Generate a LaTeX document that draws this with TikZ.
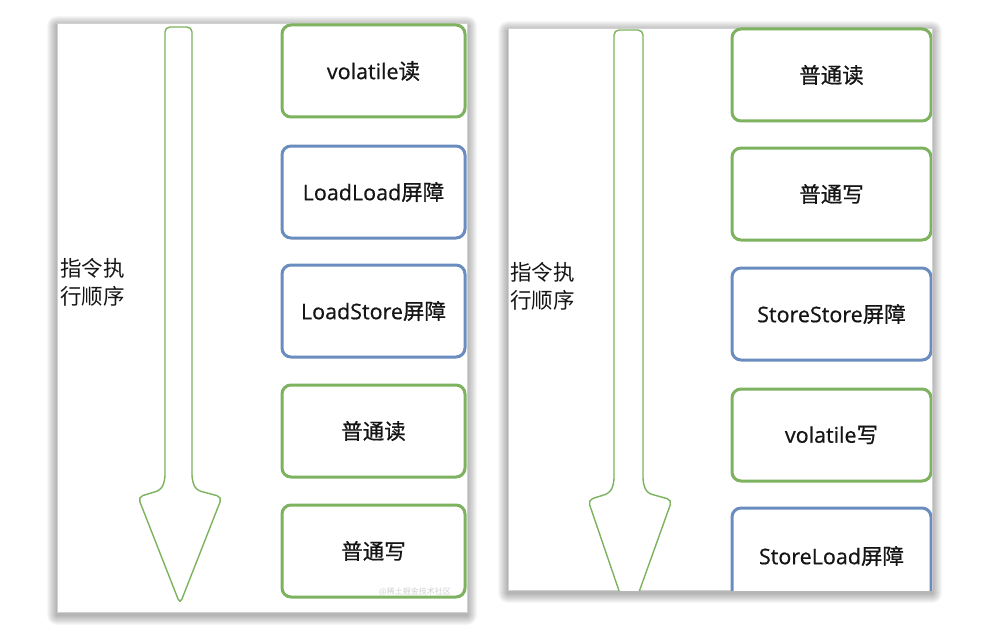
\documentclass[tikz,border=0pt]{standalone}
\usepackage{fontspec}
\setmainfont{Open Sans}[FakeBold=0.7]
\newfontfamily\cjk{Noto Sans CJK SC}[FakeBold=0.7]
\newfontfamily\cjklight{Noto Sans CJK SC}
\definecolor{gline}{HTML}{7DB25F}
\definecolor{bline}{HTML}{6A8DC0}
\definecolor{txt}{HTML}{151515}
\begin{document}
\begin{tikzpicture}[x=1pt,y=-1pt,
  box/.style={draw, line width=3pt, rounded corners=9pt, fill=white,
    minimum width=#1, minimum height=92pt, inner sep=0pt, text=txt,
    font=\fontsize{21.5}{24}\selectfont},
  gbox/.style={box=#1, draw=gline},
  bbox/.style={box=#1, draw=bline},
  arrowline/.style={draw=gline, line width=1.4pt, line join=round, rounded corners=5pt, fill=white},
  lbl/.style={anchor=west, align=left, text=txt, font=\cjklight\fontsize{21.5}{28}\selectfont, inner sep=0pt}
]
\useasboundingbox (0,0) rectangle (989,626);
\fill[white] (0,0) rectangle (989,626);
% shadows
\foreach \i in {1,...,10}{
  \fill[black, opacity=0.032, rounded corners=\i pt] (57-\i,23-\i+3) rectangle (467+\i,612+\i+3);
  \fill[black, opacity=0.032, rounded corners=\i pt] (508-\i,28-\i+3) rectangle (932+\i,590+\i+3);
}
% panels
\fill[white] (57,23) rectangle (467,612);
\fill[white] (508,28) rectangle (932,590);
\draw[black!18, line width=0.5pt] (57,23) rectangle (467,612);
\draw[black!18, line width=0.5pt] (508,28) rectangle (932,590);

% left panel
\begin{scope}
\clip (57,23) rectangle (467,612);
\path[arrowline] (178.5,27) -- (192,27) -- (192,480) -- (196,490) -- (222,497) -- (180,604)
   -- (138,497) -- (161,490) -- (165,480) -- (165,27) -- cycle;
\node[lbl] (lorder) at (60,282) {指令执\\行顺序};
\node[gbox=183pt] (l1) at (373.5,71) {volatile{\cjk 读}};
\node[bbox=183pt] (l2) at (373.5,192) {LoadLoad{\cjk 屏障}};
\node[bbox=183pt] (l3) at (373.5,311) {LoadStore{\cjk 屏障}};
\node[gbox=183pt] (l4) at (373.5,431) {\cjk 普通读};
\node[gbox=183pt] (l5) at (373.5,551) {\cjk 普通写};
\node[text=black!18, font=\cjklight\fontsize{8}{9}\selectfont, inner sep=0pt] (wm) at (415,592) {@稀土掘金技术社区};
\end{scope}

% right panel
\begin{scope}
\clip (508,28) rectangle (932,590);
\path[arrowline] (628.5,30) -- (643,30) -- (643,483) -- (647,493) -- (672,500) -- (629,620)
   -- (588,500) -- (610,493) -- (614,483) -- (614,30) -- cycle;
\node[lbl] (rorder) at (510,286) {指令执\\行顺序};
\node[gbox=199pt] (r1) at (831.5,75) {\cjk 普通读};
\node[gbox=199pt] (r2) at (831.5,194) {\cjk 普通写};
\node[bbox=199pt] (r3) at (831.5,314) {StoreStore{\cjk 屏障}};
\node[gbox=199pt] (r4) at (831.5,435) {volatile{\cjk 写}};
\node[bbox=199pt] (r5) at (831.5,554) {};
\node[text=txt, font=\fontsize{21.5}{24}\selectfont, inner sep=0pt] (r5t) at (831.5,556) {StoreLoad{\cjk 屏障}};
\end{scope}
\end{tikzpicture}
\end{document}
